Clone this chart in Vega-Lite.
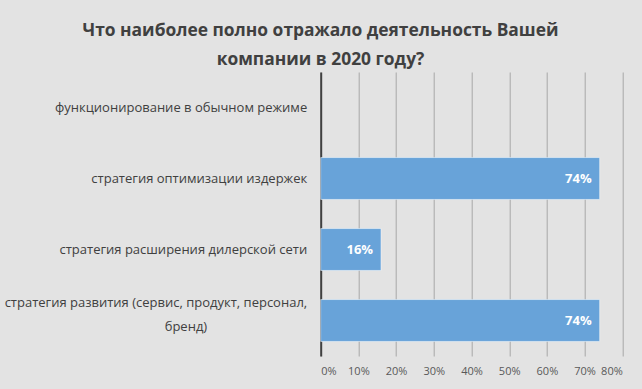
{
  "$schema": "https://vega.github.io/schema/vega-lite/v6.json",
  "autosize": {"type": "none"},
  "width": 301.6,
  "height": 284,
  "padding": {"left": 320.7, "top": 72, "right": 19.7, "bottom": 33},
  "background": "#e3e3e3",
  "title": {
    "text": ["Что наиболее полно отражало деятельность Вашей", "компании в 2020 году?"],
    "anchor": "middle",
    "frame": "group",
    "dx": -151,
    "font": "Open Sans",
    "fontSize": 17.4,
    "fontWeight": "bold",
    "color": "#404040",
    "lineHeight": 29,
    "offset": 4
  },
  "data": {
    "values": [
      {"category": "функционирование в обычном режиме", "value": null},
      {"category": "стратегия оптимизации издержек", "value": 0.74},
      {"category": "стратегия расширения дилерской сети", "value": 0.16},
      {"category": "стратегия развития (сервис, продукт, персонал, бренд)", "value": 0.74}
    ]
  },
  "encoding": {
    "y": {
      "field": "category",
      "type": "nominal",
      "sort": null,
      "scale": {
        "domain": ["функционирование в обычном режиме", "стратегия оптимизации издержек", "стратегия расширения дилерской сети", "стратегия развития (сервис, продукт, персонал, бренд)"],
        "paddingInner": 0.41,
        "paddingOuter": 0.205
      },
      "axis": {
        "title": null,
        "domain": true,
        "domainColor": "#404040",
        "domainWidth": 2,
        "ticks": false,
        "labelPadding": 14,
        "labelOffset": {"condition": {"test": "indexof(datum.value, 'бренд') >= 0", "value": -18}, "value": 0},
        "labelFont": "Open Sans",
        "labelFontSize": 13,
        "labelColor": "#404040",
        "labelLimit": 400,
        "labelLineHeight": 24,
        "labelExpr": "indexof(datum.label, 'бренд') >= 0 ? ['стратегия развития (сервис, продукт, персонал,', pad('бренд)', 16, '\u2800', 'right')] : datum.label"
      }
    },
    "x": {
      "field": "value",
      "type": "quantitative",
      "scale": {"domain": [0, 0.8], "nice": false},
      "axis": {
        "title": null,
        "format": ".0%",
        "values": [0, 0.1, 0.2, 0.3, 0.4, 0.5, 0.6, 0.7, 0.8],
        "domain": false,
        "ticks": false,
        "grid": true,
        "gridColor": "#a8a8a8",
        "gridWidth": 1,
        "labelPadding": 9,
        "labelFont": "Open Sans",
        "labelFontSize": 11,
        "labelColor": "#595959"
      }
    }
  },
  "layer": [
    {
      "mark": {"type": "bar", "color": "#68a3d9", "stroke": "#ffffff", "strokeOpacity": 0.5, "strokeWidth": 1}
    },
    {
      "transform": [{"filter": "datum.value != null"}],
      "mark": {"type": "text", "align": "right", "dx": -8, "font": "Open Sans", "fontSize": 13, "fontWeight": "bold", "color": "#ffffff"},
      "encoding": {"text": {"field": "value", "type": "quantitative", "format": ".0%"}}
    }
  ],
  "config": {"view": {"stroke": null}}
}
